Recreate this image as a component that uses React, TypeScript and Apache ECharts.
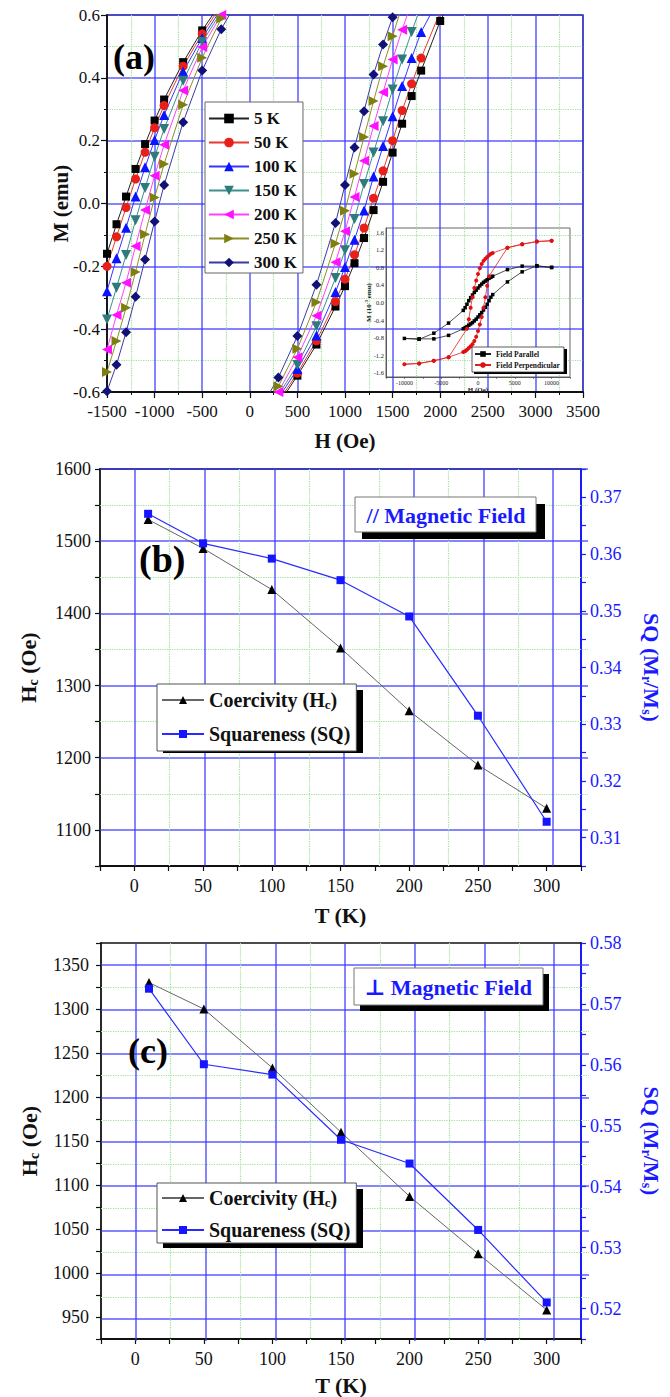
import React, { useEffect, useRef } from 'react';
import * as echarts from 'echarts';

const FONT = '"Liberation Serif", "DejaVu Serif", "Times New Roman", serif';
const GRID_BLUE = 'rgba(50,50,255,0.8)';
const GRID_GREEN = '#9ee09a';
const AXIS_BLUE = '#1a1aff';
const CLEAR = 'rgba(0,0,0,0)';

// ---------- Panel (a): M-H loops (zoomed) ----------
const tempNames = ['5 K', '50 K', '100 K', '150 K', '200 K', '250 K', '300 K'];
const descH = [-100, -300, -500, -700, -900, -1000, -1100, -1200, -1300, -1400, -1500, -1600];
const m5D = [0.72, 0.64, 0.551, 0.45, 0.331, 0.264, 0.189, 0.11, 0.022, -0.066, -0.16, -0.25];
const m50D = [0.71, 0.63, 0.54, 0.437, 0.312, 0.241, 0.163, 0.078, -0.013, -0.106, -0.2, -0.29];
const m100D = [0.7, 0.62, 0.527, 0.42, 0.282, 0.202, 0.115, 0.022, -0.077, -0.174, -0.279, -0.38];
const m150D = [0.69, 0.61, 0.514, 0.391, 0.237, 0.149, 0.049, -0.053, -0.164, -0.268, -0.369, -0.47];
const m200D = [0.68, 0.6, 0.498, 0.36, 0.187, 0.088, -0.021, -0.136, -0.252, -0.355, -0.465, -0.57];
const m250D = [0.67, 0.589, 0.464, 0.314, 0.126, 0.019, -0.098, -0.218, -0.332, -0.438, -0.536, -0.64];
const m300D = [0.66, 0.555, 0.423, 0.259, 0.059, -0.057, -0.178, -0.297, -0.41, -0.513, -0.598, -0.69];
const ascH = [100, 300, 500, 700, 900, 1000, 1100, 1200, 1300, 1400, 1500, 1600, 1700, 1800, 2000, 2200];
const m5A = [-0.72, -0.64, -0.548, -0.449, -0.328, -0.263, -0.19, -0.11, -0.021, 0.069, 0.162, 0.254, 0.342, 0.423, 0.581, 0.7];
const m50A = [-0.71, -0.63, -0.54, -0.437, -0.312, -0.241, -0.163, -0.078, 0.017, 0.104, 0.2, 0.296, 0.381, 0.463, 0.61, 0.72];
const m100A = [-0.7, -0.62, -0.527, -0.42, -0.282, -0.202, -0.115, -0.022, 0.086, 0.183, 0.278, 0.374, 0.463, 0.546, 0.66, 0.75];
const m150A = [-0.69, -0.61, -0.514, -0.391, -0.237, -0.149, -0.049, 0.062, 0.162, 0.262, 0.363, 0.458, 0.546, 0.63, 0.74, 0.82];
const m200A = [-0.68, -0.6, -0.489, -0.357, -0.187, -0.088, 0.021, 0.136, 0.247, 0.354, 0.458, 0.553, 0.64, 0.72, 0.83, 0.9];
const m250A = [-0.67, -0.582, -0.462, -0.314, -0.127, -0.023, 0.095, 0.212, 0.326, 0.437, 0.532, 0.63, 0.71, 0.78, 0.88, 0.95];
const m300A = [-0.66, -0.554, -0.422, -0.259, -0.062, 0.059, 0.178, 0.294, 0.411, 0.506, 0.593, 0.68, 0.75, 0.81, 0.9, 0.97];

// ---------- Inset: full loops (M in 10^-3 emu) ----------
const parH = [10000, 8000, 6000, 4000, 2000, 1750, 1500, 1250, 1000, 750, 500, 250, 0, -250, -500, -750, -1000, -1250, -1500, -1750, -2000, -4000, -6000, -8000, -10000,
  -8000, -6000, -4000, -2000, -1750, -1500, -1250, -1000, -750, -500, -250, 0, 250, 500, 750, 1000, 1250, 1500, 1750, 2000, 4000, 6000, 8000, 10000];
const parM = [0.8, 0.83, 0.83, 0.75, 0.6, 0.575, 0.55, 0.52, 0.49, 0.46, 0.42, 0.38, 0.33, 0.28, 0.23, 0.17, 0.11, 0.04, -0.04, -0.12, -0.18, -0.47, -0.7, -0.84, -0.82,
  -0.83, -0.83, -0.75, -0.6, -0.575, -0.55, -0.52, -0.49, -0.46, -0.42, -0.38, -0.33, -0.28, -0.23, -0.17, -0.11, -0.04, 0.04, 0.12, 0.18, 0.47, 0.7, 0.84, 0.8];
const perpH = [10000, 8000, 6000, 4000, 2000, 1750, 1500, 1250, 1000, 750, 500, 250, 0, -250, -500, -750, -1000, -1250, -1500, -4000, -6000, -8000, -10000,
  -8000, -6000, -4000, -2000, -1750, -1500, -1250, -1000, -750, -500, -250, 0, 250, 500, 750, 1000, 1250, 1500, 4000, 6000, 8000, 10000];
const perpM = [1.41, 1.39, 1.33, 1.25, 1.13, 1.11, 1.08, 1.04, 1.0, 0.95, 0.88, 0.78, 0.65, 0.5, 0.33, 0.12, -0.12, -0.38, -0.6, -1.25, -1.33, -1.39, -1.41,
  -1.39, -1.33, -1.25, -1.13, -1.11, -1.08, -1.04, -1.0, -0.95, -0.88, -0.78, -0.65, -0.5, -0.33, -0.12, 0.12, 0.38, 0.6, 1.25, 1.33, 1.39, 1.41];
const insetNames = ['Field Parallel', 'Field Perpendicular'];

// ---------- Panels (b) and (c) ----------
const tempK = [10, 50, 100, 150, 200, 250, 300];
const hcPar = [1530, 1490, 1433, 1352, 1265, 1190, 1130];
const sqPar = [0.3671, 0.3619, 0.3592, 0.3554, 0.349, 0.3315, 0.3128];
const hcPerp = [1330, 1300, 1233, 1160, 1087, 1022, 958];
const sqPerp = [0.5725, 0.5601, 0.5584, 0.5477, 0.5438, 0.5329, 0.521];
const bcNames = ['Coercivity (Hc)', 'Squareness (SQ)'];

const descM = [m5D, m50D, m100D, m150D, m200D, m250D, m300D];
const ascM = [m5A, m50A, m100A, m150A, m200A, m250A, m300A];

const tempStyles = [
  { color: '#000000', line: '#222222', symbol: 'rect', size: 8 },
  { color: '#e8201a', line: '#e83a30', symbol: 'circle', size: 9 },
  { color: '#0a14ff', line: '#3535ff', symbol: 'triangle', size: 10 },
  { color: '#2f7b7b', line: '#3f8f8f', symbol: 'path://M0,0L10,0L5,9Z', size: 10 },
  { color: '#ff10ff', line: '#ff40ff', symbol: 'path://M9,0L9,10L0,5Z', size: 10 },
  { color: '#7f7f10', line: '#8e8e28', symbol: 'path://M0,0L9,5L0,10Z', size: 10 },
  { color: '#111177', line: '#3a3aa6', symbol: 'diamond', size: 10 },
];

const pairs = (xs: number[], ys: number[]) => xs.map((x, i) => [x, ys[i]]);

const lbl = (size: number, color: string, margin: number) => ({
  fontFamily: FONT, fontSize: size, color, margin, showMinLabel: true, showMaxLabel: true,
});
const nameStyle = (size: number, color = '#111', subSize = 14) => ({
  fontFamily: FONT, fontSize: size, fontWeight: 'bold', color,
  rich: {
    sub: { fontFamily: FONT, fontSize: subSize, fontWeight: 'bold', color, padding: [Math.round(subSize * 0.7), 0, 0, 0] },
  },
});
const majorLine = { show: true, lineStyle: { color: GRID_BLUE, width: 1.5 } };
const minorLine = { show: true, lineStyle: { color: GRID_GREEN, type: 'dotted', width: 1.2 } };

function tAxisMain(gridIndex: number, gap: number) {
  return {
    type: 'value', gridIndex, position: 'bottom', min: -25, max: 325, interval: 25,
    axisLine: { onZero: false, lineStyle: { color: '#111', width: 1.8 } },
    axisTick: { length: 5, lineStyle: { color: '#111', width: 1.2 } },
    axisLabel: { ...lbl(18, '#111', 11), formatter: (v: number) => (Math.round(v) % 50 === 0 ? String(Math.round(v)) : '') },
    splitLine: { show: false },
    name: 'T (K)', nameLocation: 'middle', nameGap: gap, nameMoveOverlap: false,
    nameTextStyle: { fontFamily: FONT, fontSize: 22, fontWeight: 'bold', color: '#111' },
  };
}
// top frame line of panels (b), (c)
function topFrame(gridIndex: number) {
  return {
    type: 'value', gridIndex, position: 'top', min: -25, max: 325, interval: 25,
    axisLine: { show: true, onZero: false, lineStyle: { color: '#111', width: 1.5 } },
    axisTick: { show: false }, axisLabel: { show: false }, splitLine: { show: false },
  };
}
function hcAxis(gridIndex: number, min: number, max: number, interval: number, step: number, margin: number) {
  return {
    type: 'value', gridIndex, position: 'left', min, max, interval,
    axisLine: { onZero: false, lineStyle: { color: '#111', width: 1.8 } },
    axisTick: { length: 5, lineStyle: { color: '#111', width: 1.2 } },
    axisLabel: { ...lbl(18, '#111', margin), formatter: (v: number) => (Math.round(v) % step === 0 ? String(Math.round(v)) : '') },
    splitLine: { show: false },
    name: 'H{sub|c} (Oe)', nameLocation: 'middle', nameGap: 60, nameMoveOverlap: false,
    nameTextStyle: nameStyle(22),
  };
}
function sqAxis(gridIndex: number, min: number, max: number) {
  return {
    type: 'value', gridIndex, position: 'right', min, max, interval: 0.005,
    axisLine: { onZero: false, lineStyle: { color: AXIS_BLUE, width: 2 } },
    axisTick: { length: 5, lineStyle: { color: AXIS_BLUE, width: 1.2 } },
    axisLabel: {
      ...lbl(18, AXIS_BLUE, 9),
      formatter: (v: number) => { const k = Math.round(v * 1000); return k % 10 === 0 ? (k / 1000).toFixed(2) : ''; },
    },
    splitLine: { show: false },
    name: 'SQ (M{sub|r}/M{sub|s})', nameLocation: 'middle', nameRotate: -90, nameGap: 58, nameMoveOverlap: false,
    nameTextStyle: nameStyle(22, AXIS_BLUE),
  };
}
// invisible axes that only carry the grid lines (major blue, minor green dotted)
function lineAxis(gridIndex: number, min: number, max: number, interval: number, show: boolean) {
  return {
    type: 'value', gridIndex, min, max, interval, z: 1,
    axisLine: { show: false, onZero: false }, axisTick: { show: false }, axisLabel: { show: false },
    minorTick: { show: false, splitNumber: 2 },
    splitLine: { ...majorLine, show },
    minorSplitLine: { ...minorLine, show },
  };
}

function buildOption() {
  const series: any[] = [];
  tempNames.forEach((name, i) => {
    const st = tempStyles[i];
    [pairs(descH, descM[i]), pairs(ascH, ascM[i])].forEach((data) => {
      series.push({
        type: 'line', name, xAxisIndex: 0, yAxisIndex: 0, data,
        symbol: st.symbol, symbolSize: st.size,
        itemStyle: { color: st.color }, lineStyle: { color: st.line, width: 1 },
      });
    });
  });
  series.push({
    type: 'line', name: insetNames[0], xAxisIndex: 1, yAxisIndex: 1, data: pairs(parH, parM),
    symbol: 'rect', symbolSize: 3.5, itemStyle: { color: '#000' }, lineStyle: { color: '#222', width: 0.8 },
  });
  series.push({
    type: 'line', name: insetNames[1], xAxisIndex: 1, yAxisIndex: 1, data: pairs(perpH, perpM),
    symbol: 'circle', symbolSize: 4, itemStyle: { color: '#e01010' }, lineStyle: { color: '#e02020', width: 0.8 },
  });
  const bcSeries = (xi: number, yiHc: number, yiSq: number, hc: number[], sq: number[]) => [
    {
      type: 'line', name: bcNames[0], xAxisIndex: xi, yAxisIndex: yiHc, data: pairs(tempK, hc), z: 3,
      symbol: 'triangle', symbolSize: 9, itemStyle: { color: '#000' }, lineStyle: { color: '#666', width: 1 },
    },
    {
      type: 'line', name: bcNames[1], xAxisIndex: xi, yAxisIndex: yiSq, data: pairs(tempK, sq), z: 3,
      symbol: 'rect', symbolSize: 8, itemStyle: { color: '#1515ff' }, lineStyle: { color: '#2a2aff', width: 1.2 },
    },
  ];
  series.push(...bcSeries(2, 2, 3, hcPar, sqPar));
  series.push(...bcSeries(3, 4, 5, hcPerp, sqPerp));

  const bcLegend = (top: number, gap: number, padding: number[]) => ({
    data: bcNames, orient: 'vertical', left: 157, top, itemWidth: 42, itemHeight: 10, itemGap: gap,
    padding, backgroundColor: '#fff', borderColor: '#555', borderWidth: 1, selectedMode: false, z: 5,
    formatter: (n: string) => (n === bcNames[0] ? 'Coercivity (H{sub|c})' : n),
    textStyle: {
      fontFamily: FONT, fontSize: 20, fontWeight: 'bold', color: '#111', lineHeight: 20,
      rich: { sub: { fontFamily: FONT, fontSize: 13, fontWeight: 'bold', color: '#111', padding: [9, 0, 0, 0] } },
    },
  });

  const bL = 100, bT = 469, bW = 488, bH = 397;
  const cL = 101, cT = 943, cW = 488, cH = 398;
  const kx = bW / 350;

  return {
    animation: false,
    backgroundColor: '#fff',
    grid: [
      { left: 107, top: 15, width: 476, height: 377, show: true, borderColor: '#444', borderWidth: 1.5, backgroundColor: CLEAR },
      { left: 386, top: 228, width: 184, height: 149, show: true, borderColor: '#666', borderWidth: 1, backgroundColor: CLEAR },
      { left: bL, top: bT, width: bW, height: bH },
      { left: cL, top: cT, width: cW, height: cH },
      // grid-line helpers
      { left: bL, top: bT, width: bW, height: bH * 500 / 550 },
      { left: bL + 25 * kx, top: bT, width: 300 * kx, height: bH },
      { left: cL, top: cT + cH * 25 / 450, width: cW, height: cH * 400 / 450 },
      { left: cL + 25 * kx, top: cT, width: 300 * kx, height: cH },
    ],
    xAxis: [
      {
        type: 'value', gridIndex: 0, min: -1500, max: 3500, interval: 500,
        axisLine: { onZero: false, lineStyle: { color: '#111', width: 1.8 } },
        axisTick: { length: 6, lineStyle: { color: '#111', width: 1.2 } },
        minorTick: { show: true, splitNumber: 2, length: 3, lineStyle: { color: '#111' } },
        splitLine: majorLine,
        minorSplitLine: minorLine,
        axisLabel: { ...lbl(17, '#111', 11), formatter: (v: number) => String(Math.round(v)) },
        name: 'H (Oe)', nameLocation: 'middle', nameGap: 38, nameMoveOverlap: false,
        nameTextStyle: { fontFamily: FONT, fontSize: 21, fontWeight: 'bold', color: '#111' },
      },
      {
        type: 'value', gridIndex: 1, min: -12500, max: 12500, interval: 2500,
        axisLine: { onZero: false, lineStyle: { color: '#444', width: 0.8 } },
        axisTick: { length: 2, lineStyle: { color: '#444', width: 0.6 } },
        splitLine: { show: false },
        axisLabel: { ...lbl(6, '#222', 3), formatter: (v: number) => (Math.round(v) % 5000 === 0 ? String(Math.round(v)) : '') },
        name: 'H (Oe)', nameLocation: 'middle', nameGap: 9, nameMoveOverlap: false,
        nameTextStyle: { fontFamily: FONT, fontSize: 7, fontWeight: 'bold', color: '#222' },
      },
      tAxisMain(2, 38),
      tAxisMain(3, 35),
      lineAxis(4, -25, 325, 25, false),
      lineAxis(5, 0, 300, 50, true),
      lineAxis(6, -25, 325, 25, false),
      lineAxis(7, 0, 300, 50, true),
      topFrame(2),
      topFrame(3),
    ],
    yAxis: [
      {
        type: 'value', gridIndex: 0, min: -0.6, max: 0.6, interval: 0.2,
        axisLine: { onZero: false, lineStyle: { color: '#111', width: 1.8 } },
        axisTick: { length: 6, lineStyle: { color: '#111', width: 1.2 } },
        minorTick: { show: true, splitNumber: 2, length: 3, lineStyle: { color: '#111' } },
        splitLine: majorLine,
        minorSplitLine: minorLine,
        axisLabel: { ...lbl(17, '#111', 7), formatter: (v: number) => (Math.abs(v) < 1e-9 ? 0 : v).toFixed(1) },
        name: 'M (emu)', nameLocation: 'middle', nameGap: 36, nameMoveOverlap: false,
        nameTextStyle: { fontFamily: FONT, fontSize: 21, fontWeight: 'bold', color: '#111' },
      },
      {
        type: 'value', gridIndex: 1, min: -1.7, max: 1.7, interval: 0.1,
        axisLine: { onZero: false, lineStyle: { color: '#444', width: 0.8 } },
        axisTick: { show: false },
        splitLine: { show: false },
        axisLabel: {
          ...lbl(6.5, '#222', 2),
          formatter: (v: number) => { const k = Math.round(v * 10); return k % 4 === 0 ? (k / 10).toFixed(1) : ''; },
        },
        name: 'M (10{sup|-3} emu)', nameLocation: 'middle', nameGap: 13, nameMoveOverlap: false,
        nameTextStyle: {
          fontFamily: FONT, fontSize: 7, fontWeight: 'bold', color: '#222',
          rich: { sup: { fontFamily: FONT, fontSize: 5, fontWeight: 'bold', color: '#222', padding: [0, 0, 4, 0] } },
        },
      },
      hcAxis(2, 1050, 1600, 50, 100, 9),
      sqAxis(2, 0.305, 0.375),
      hcAxis(3, 925, 1375, 25, 50, 12),
      sqAxis(3, 0.515, 0.58),
      lineAxis(4, 1100, 1600, 100, true),
      lineAxis(5, 0, 1, 1, false),
      lineAxis(6, 950, 1350, 50, true),
      lineAxis(7, 0, 1, 1, false),
    ],
    legend: [
      {
        data: tempNames, orient: 'vertical', left: 205, top: 102, itemWidth: 40, itemHeight: 12, itemGap: 7,
        padding: [8, 6, 2, 3], backgroundColor: '#fff', borderColor: '#666', borderWidth: 1, selectedMode: false,
        textStyle: { fontFamily: FONT, fontSize: 17, fontWeight: 'bold', color: '#111', lineHeight: 17 },
      },
      {
        data: insetNames, orient: 'vertical', left: 472, top: 347, itemWidth: 16, itemHeight: 7, itemGap: 3,
        padding: [3, 4, 3, 2], backgroundColor: '#fff', borderColor: '#333', borderWidth: 0.8, selectedMode: false, z: 5,
        textStyle: { fontFamily: FONT, fontSize: 7.5, fontWeight: 'bold', color: '#111', lineHeight: 8 },
      },
      bcLegend(684, 13, [6, 6, 7, 4]),
      bcLegend(1183, 11, [5, 6, 3, 4]),
    ],
    graphic: [
      { type: 'rect', z: 4, shape: { x: 474, y: 349, width: 93, height: 25 }, style: { fill: '#000' } },
      { type: 'rect', z: 4, shape: { x: 163, y: 690, width: 200, height: 63 }, style: { fill: '#000' } },
      { type: 'rect', z: 4, shape: { x: 163, y: 1189, width: 200, height: 59 }, style: { fill: '#000' } },
      { type: 'text', z: 10, x: 113, y: 57, style: { text: '(a)', fontFamily: FONT, fontSize: 36, fontWeight: 'bold', fill: '#000', align: 'left', verticalAlign: 'middle' } },
      { type: 'text', z: 10, x: 139, y: 559, style: { text: '(b)', fontFamily: FONT, fontSize: 38, fontWeight: 'bold', fill: '#000', align: 'left', verticalAlign: 'middle' } },
      { type: 'text', z: 10, x: 128, y: 1051, style: { text: '(c)', fontFamily: FONT, fontSize: 36, fontWeight: 'bold', fill: '#000', align: 'left', verticalAlign: 'middle' } },
      { type: 'rect', z: 10, shape: { x: 362, y: 504, width: 183, height: 35 }, style: { fill: '#000' } },
      { type: 'rect', z: 11, shape: { x: 355, y: 497, width: 181, height: 35 }, style: { fill: '#fff', stroke: '#777', lineWidth: 1 } },
      { type: 'text', z: 12, x: 446, y: 515, style: { text: '// Magnetic Field', fontFamily: FONT, fontSize: 22, fontWeight: 'bold', fill: AXIS_BLUE, align: 'center', verticalAlign: 'middle' } },
      { type: 'rect', z: 10, shape: { x: 360, y: 974, width: 189, height: 37 }, style: { fill: '#000' } },
      { type: 'rect', z: 11, shape: { x: 354, y: 968, width: 189, height: 37 }, style: { fill: '#fff', stroke: '#777', lineWidth: 1 } },
      { type: 'text', z: 12, x: 448, y: 987, style: { text: '\u22A5 Magnetic Field', fontFamily: FONT, fontSize: 22, fontWeight: 'bold', fill: AXIS_BLUE, align: 'center', verticalAlign: 'middle' } },
    ],
    series,
  };
}

export default function App() {
  const ref = useRef<HTMLDivElement>(null);
  useEffect(() => {
    document.body.style.margin = '0';
    const el = ref.current;
    if (!el) return;
    const chart = echarts.init(el, null, { renderer: 'svg' });
    chart.setOption(buildOption() as any);
    return () => chart.dispose();
  }, []);
  return <div ref={ref} style={{ width: 670, height: 1397 }} />;
}
